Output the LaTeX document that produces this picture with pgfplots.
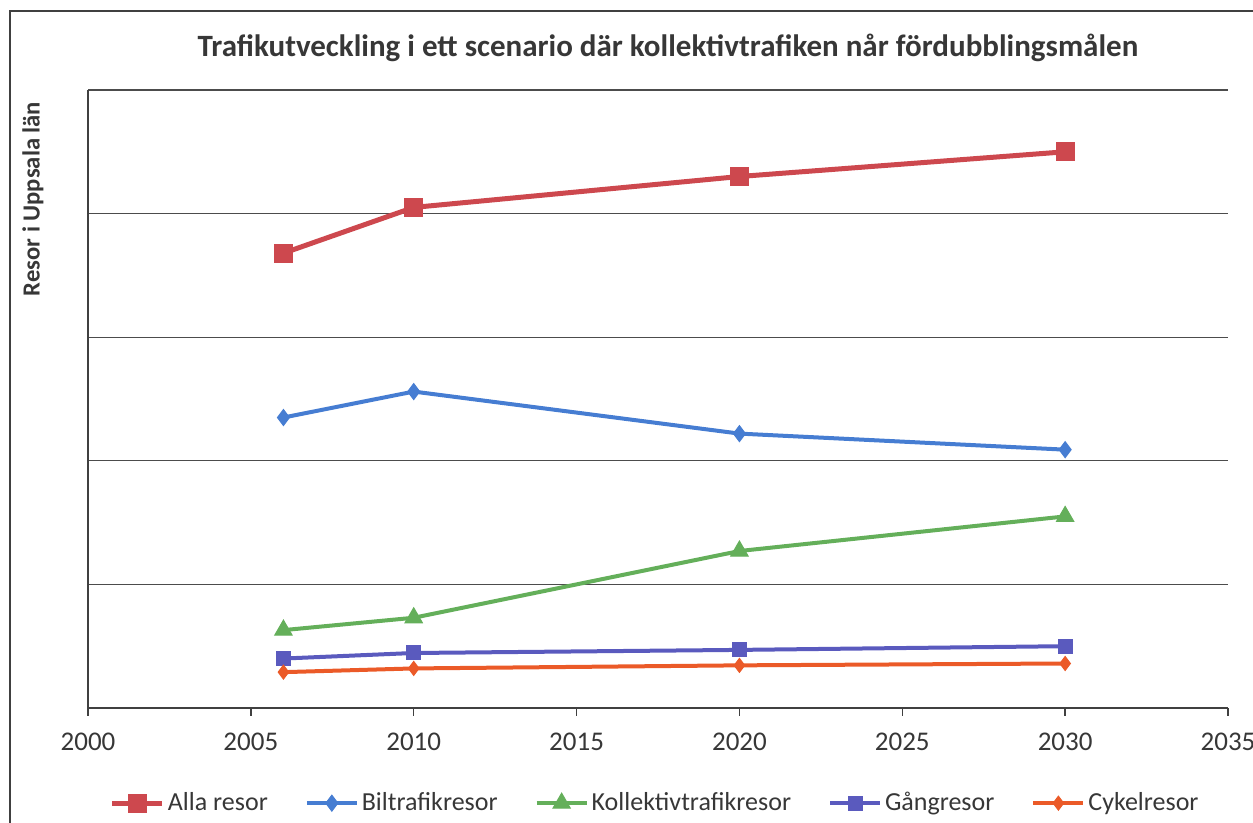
\documentclass[border=0pt]{standalone}
\usepackage{pgfplots}
\pgfplotsset{compat=1.18}
\usepackage{fontspec}
\setmainfont{Carlito}
\definecolor{cAlla}{RGB}{205,72,78}
\definecolor{cBil}{RGB}{70,125,210}
\definecolor{cKoll}{RGB}{100,175,90}
\definecolor{cGang}{RGB}{90,90,190}
\definecolor{cCyk}{RGB}{235,90,40}
\definecolor{txt}{RGB}{55,55,55}
\begin{document}
\begin{tikzpicture}[x=0.5pt,y=0.5pt]
\useasboundingbox (0,0) rectangle (1253,823);
\draw[line width=1.1pt, color=black!75] (10,0) -- (10,812) -- (1253,812);
\node[font=\bfseries\fontsize{15.5}{18}\selectfont, text=txt] at (668,775) {Trafikutveckling i ett scenario där kollektivtrafiken når fördubblingsmålen};
\node[rotate=90, font=\bfseries\fontsize{12.3}{14}\selectfont, text=txt] at (33,624) {Resor i Uppsala län};
\begin{axis}[
  at={(44pt,57.5pt)}, anchor=south west,
  scale only axis, width=570pt, height=309pt,
  xmin=2000, xmax=2035, ymin=0, ymax=5,
  axis lines*=left,
  axis line style={black!75, line width=0.7pt},
  xtick={2000,2005,...,2035},
  ytick={0,1,2,3,4,5}, yticklabels={},
  ytick style={draw=none},
  xtick style={black!75, line width=0.7pt},
  tick align=outside,
  major tick length=4pt,
  ymajorgrids,
  grid style={black!70, line width=0.6pt},
  /pgf/number format/assume math mode=true,
  /pgf/number format/1000 sep={},
  tick label style={font=\fontsize{13.5}{16}\selectfont, text=txt},
  xticklabel style={yshift=-5pt},
  legend columns=5,
  legend style={at={(0.498,-0.154)}, anchor=center, draw=none, fill=none,
    font=\fontsize{13}{15}\selectfont, text=txt,
    nodes={inner xsep=1.5pt},
    /tikz/every even column/.append style={column sep=17pt}},
  legend image code/.code={\draw[#1, mark repeat=2, mark phase=2] plot coordinates {(0pt,0pt) (12.5pt,0pt) (25pt,0pt)};},
]
\addplot[cAlla, line width=2.5pt, mark=square*, mark size=4.5pt, mark options={solid, line width=0.5pt}] coordinates {(2006,3.68) (2010,4.05) (2020,4.30) (2030,4.50)};
\addlegendentry{Alla resor}
\addplot[cBil, line width=2pt, mark=diamond*, mark size=4pt, mark options={solid, line width=0.5pt}] coordinates {(2006,2.35) (2010,2.56) (2020,2.22) (2030,2.09)};
\addlegendentry{Biltrafikresor}
\addplot[cKoll, line width=2pt, mark=triangle*, mark size=5pt, mark options={solid, line width=0.5pt}] coordinates {(2006,0.63) (2010,0.73) (2020,1.27) (2030,1.55)};
\addlegendentry{Kollektivtrafikresor}
\addplot[cGang, line width=2pt, mark=square*, mark size=3.5pt, mark options={solid, line width=0.5pt}] coordinates {(2006,0.40) (2010,0.445) (2020,0.47) (2030,0.50)};
\addlegendentry{Gångresor}
\addplot[cCyk, line width=2pt, mark=diamond*, mark size=3.5pt, mark options={solid, line width=0.5pt}] coordinates {(2006,0.29) (2010,0.32) (2020,0.345) (2030,0.36)};
\addlegendentry{Cykelresor}
\end{axis}
\end{tikzpicture}
\end{document}
